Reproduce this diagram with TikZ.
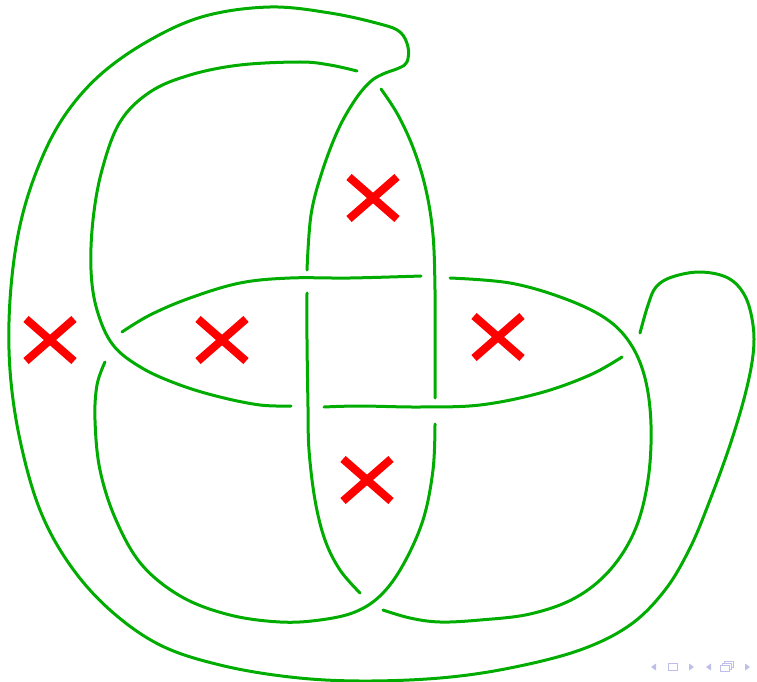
\documentclass[tikz,border=0pt]{standalone}
\definecolor{knotgreen}{RGB}{0,172,0}
\definecolor{navblue}{RGB}{190,190,235}
\tikzset{
  strand/.style={knotgreen, line width=3pt, line cap=round, line join=round},
  cross/.style={red, line width=8pt},
  nav/.style={navblue, fill=navblue},
}
\begin{document}
\begin{tikzpicture}[x=1pt,y=-1pt]
\useasboundingbox (0,0) rectangle (757,682);
% arc a
\draw[strand] plot[smooth, tension=0.6] coordinates {(381,89) (398,115) (414,150) (426,190) (433,235) (435,290) (435,345) (435,398)};
% arc b
\draw[strand] plot[smooth, tension=0.6] coordinates {(435,424) (433,470) (423,520) (403,565) (381,595) (355,612) (320,620) (280,622) (230,615) (182,597) (142,565) (116,520) (100,470) (95,420) (97,385) (105,362)};
% arc c
\draw[strand] plot[smooth, tension=0.6] coordinates {(122,332) (150,315) (190,298) (240,283) (290,278) (350,278) (421,276)};
% arc d
\draw[strand] plot[smooth, tension=0.6] coordinates {(450,278) (510,283) (563,298) (605,318) (630,343) (645,378) (651,425) (648,480) (635,530) (610,570) (575,598) (530,614) (480,620) (440,622) (410,618) (383,610)};
% arc e (outer)
\draw[strand] plot[smooth, tension=0.6] coordinates {(640,333) (648,305) (656,287) (672,277) (700,272) (728,278) (745,296) (753,325) (753,355) (745,395) (730,445) (710,500) (690,548) (665,590) (630,625) (580,650) (510,668) (440,678) (360,681) (290,677) (220,665) (160,645) (110,610) (70,565) (40,510) (20,440) (10,370) (10,300) (19,230) (37,170) (63,118) (100,75) (150,40) (205,16) (270,7) (330,13) (380,24) (400,32) (408,47) (407,62) (399,68) (383,74) (370,82) (355,100) (338,130) (322,172) (311,215) (307,270)};
% arc f
\draw[strand] plot[smooth, tension=0.6] coordinates {(307,293) (307,340) (308,407) (309,450) (315,500) (325,540) (340,570) (360,593)};
% arc g
\draw[strand] plot[smooth, tension=0.6] coordinates {(324,407) (360,406) (420,407) (480,405) (540,393) (590,375) (622,357)};
% arc h
\draw[strand] plot[smooth, tension=0.6] coordinates {(291,406) (260,405) (220,397) (180,385) (142,368) (113,345) (97,310) (91,270) (93,220) (102,170) (120,122) (150,92) (190,75) (240,65) (300,62) (330,65) (357,71)};
% red crosses
\foreach \cx/\cy in {373/198, 50/340, 222/340, 498/337, 367/480}{
  \draw[cross] (\cx-24,\cy-21) -- (\cx+24,\cy+21);
  \draw[cross] (\cx-24,\cy+21) -- (\cx+24,\cy-21);
}
% navigation symbols
\fill[navblue] (651,667) -- (656,663.5) -- (656,670.5) -- cycle;
\draw[navblue, line width=0.9pt] (668,663.5) rectangle (677,670.5);
\fill[navblue] (694,667) -- (689,663.5) -- (689,670.5) -- cycle;
\fill[navblue] (706,667) -- (711,663.5) -- (711,670.5) -- cycle;
\draw[navblue, line width=0.9pt, fill=white] (724,661) rectangle (733,667);
\draw[navblue, line width=0.9pt, fill=white] (722,663) rectangle (731,669);
\draw[navblue, line width=0.9pt, fill=white] (720,665) rectangle (729,671);
\fill[navblue] (750,667) -- (745,663.5) -- (745,670.5) -- cycle;
\end{tikzpicture}
\end{document}
